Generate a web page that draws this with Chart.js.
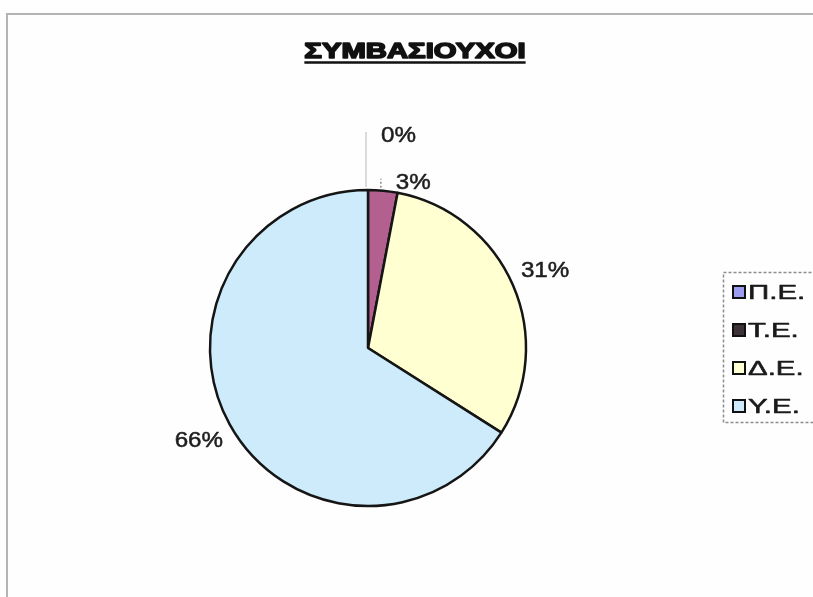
<!DOCTYPE html>
<html>
<head>
<meta charset="utf-8">
<script src="https://cdn.jsdelivr.net/npm/chart.js@4/dist/chart.umd.min.js"></script>
<style>
  html, body { margin: 0; padding: 0; background: #fdfefd; overflow: hidden; }
  canvas { display: block; }
</style>
</head>
<body>
<canvas id="pieChart" width="813" height="597"></canvas>
<script>
const chartTitle = 'ΣΥΜΒΑΣΙΟΥΧΟΙ';
const categories = ['Π.Ε.', 'Τ.Ε.', 'Δ.Ε.', 'Υ.Ε.'];
const shares = [0, 3, 31, 66];
const sliceColors = ['#9c9cf0', '#b35f90', '#ffffd2', '#cdebfb'];
const swatchColors = ['#9c9cf0', '#3d3238', '#ffffd2', '#cdebfb'];
// leader lengths for the thin slices whose labels sit above the pie
const leaderLen = [58, 12];

// text drawn with a horizontal stretch, like the old spreadsheet fonts;
// weight > 0 adds an outline to make the strokes heavier
function drawStretched(ctx, text, x, y, font, sx, align, baseline, weight) {
    ctx.font = font;
    const w = ctx.measureText(text).width * sx;
    let left = x;
    if (align === 'center') left = x - w / 2;
    if (align === 'right') left = x - w;
    ctx.save();
    ctx.translate(left, y);
    ctx.scale(sx, 1);
    ctx.textAlign = 'left';
    ctx.textBaseline = baseline || 'alphabetic';
    ctx.fillText(text, 0, 0);
    if (weight) {
        ctx.strokeStyle = ctx.fillStyle;
        ctx.lineWidth = weight;
        ctx.lineJoin = 'round';
        ctx.strokeText(text, 0, 0);
    }
    ctx.restore();
    return { left: left, width: w };
}

const decorations = {
    id: 'decorations',
    afterDraw(chart) {
        const ctx = chart.ctx;
        const arcs = chart.getDatasetMeta(0).data;
        ctx.save();

        // frame
        ctx.strokeStyle = '#b4b4b4';
        ctx.lineWidth = 2;
        ctx.beginPath();
        ctx.moveTo(7, 597);
        ctx.lineTo(7, 14);
        ctx.lineTo(813, 14);
        ctx.stroke();

        // title with underline
        ctx.fillStyle = '#111';
        const t = drawStretched(ctx, chartTitle, 415, 58, 'bold 22px "Liberation Sans", Arial', 1.33, 'center', 'alphabetic', 1.6);
        ctx.strokeStyle = '#111';
        ctx.lineWidth = 2.5;
        ctx.beginPath();
        ctx.moveTo(t.left, 62.5);
        ctx.lineTo(t.left + t.width, 62.5);
        ctx.stroke();

        // percentage labels
        const labelFont = '22px "Liberation Sans", Arial';
        arcs.forEach((arc, i) => {
            const p = arc.getProps(['x', 'y', 'startAngle', 'endAngle', 'outerRadius'], true);
            const mid = (p.startAngle + p.endAngle) / 2;
            const text = shares[i] + '%';
            ctx.fillStyle = '#1e1e1e';
            if (shares[i] < 5) {
                const ex = p.x + p.outerRadius * Math.cos(mid);
                const ey = p.y + p.outerRadius * Math.sin(mid);
                const top = ey - leaderLen[i];
                ctx.strokeStyle = i === 0 ? '#cfcfcf' : '#8a8a8a';
                ctx.lineWidth = 1.5;
                ctx.setLineDash(i === 0 ? [] : [2, 2]);
                ctx.beginPath();
                ctx.moveTo(ex - 2, ey - 3);
                ctx.lineTo(ex - 2, top);
                ctx.stroke();
                ctx.setLineDash([]);
                drawStretched(ctx, text, ex + 13, top + 4, labelFont, 1.1, 'left', 'middle', 0.5);
            } else {
                const r = p.outerRadius + 35;
                drawStretched(ctx, text, p.x + r * Math.cos(mid), p.y + r * Math.sin(mid),
                    labelFont, 1.1, 'center', 'middle', 0.5);
            }
        });

        // legend box, cut off at the right edge
        ctx.strokeStyle = '#8c8c8c';
        ctx.lineWidth = 1.5;
        ctx.setLineDash([3, 2]);
        ctx.strokeRect(723.5, 272.5, 100, 150);
        ctx.setLineDash([]);
        categories.forEach((name, i) => {
            const y = 292 + i * 38;
            ctx.fillStyle = swatchColors[i];
            ctx.fillRect(733, y - 6, 12, 12);
            ctx.strokeStyle = '#111';
            ctx.lineWidth = 2;
            ctx.strokeRect(733, y - 6, 12, 12);
            ctx.fillStyle = '#1a1a1a';
            drawStretched(ctx, name, 748, y + 1, '21px "Liberation Sans", Arial', 1.4, 'left', 'middle', 0.6);
        });

        ctx.restore();
    }
};

const ctx = document.getElementById('pieChart').getContext('2d');
new Chart(ctx, {
    type: 'pie',
    data: {
        labels: categories,
        datasets: [{
            data: shares,
            backgroundColor: sliceColors,
            borderColor: '#151515',
            borderWidth: 2.5
        }]
    },
    options: {
        responsive: false,
        animation: false,
        events: [],
        radius: 158,
        layout: { padding: { left: 0, right: 77, top: 99, bottom: 0 } },
        plugins: {
            legend: { display: false },
            title: { display: false },
            tooltip: { enabled: false }
        }
    },
    plugins: [decorations]
});
</script>
</body>
</html>
